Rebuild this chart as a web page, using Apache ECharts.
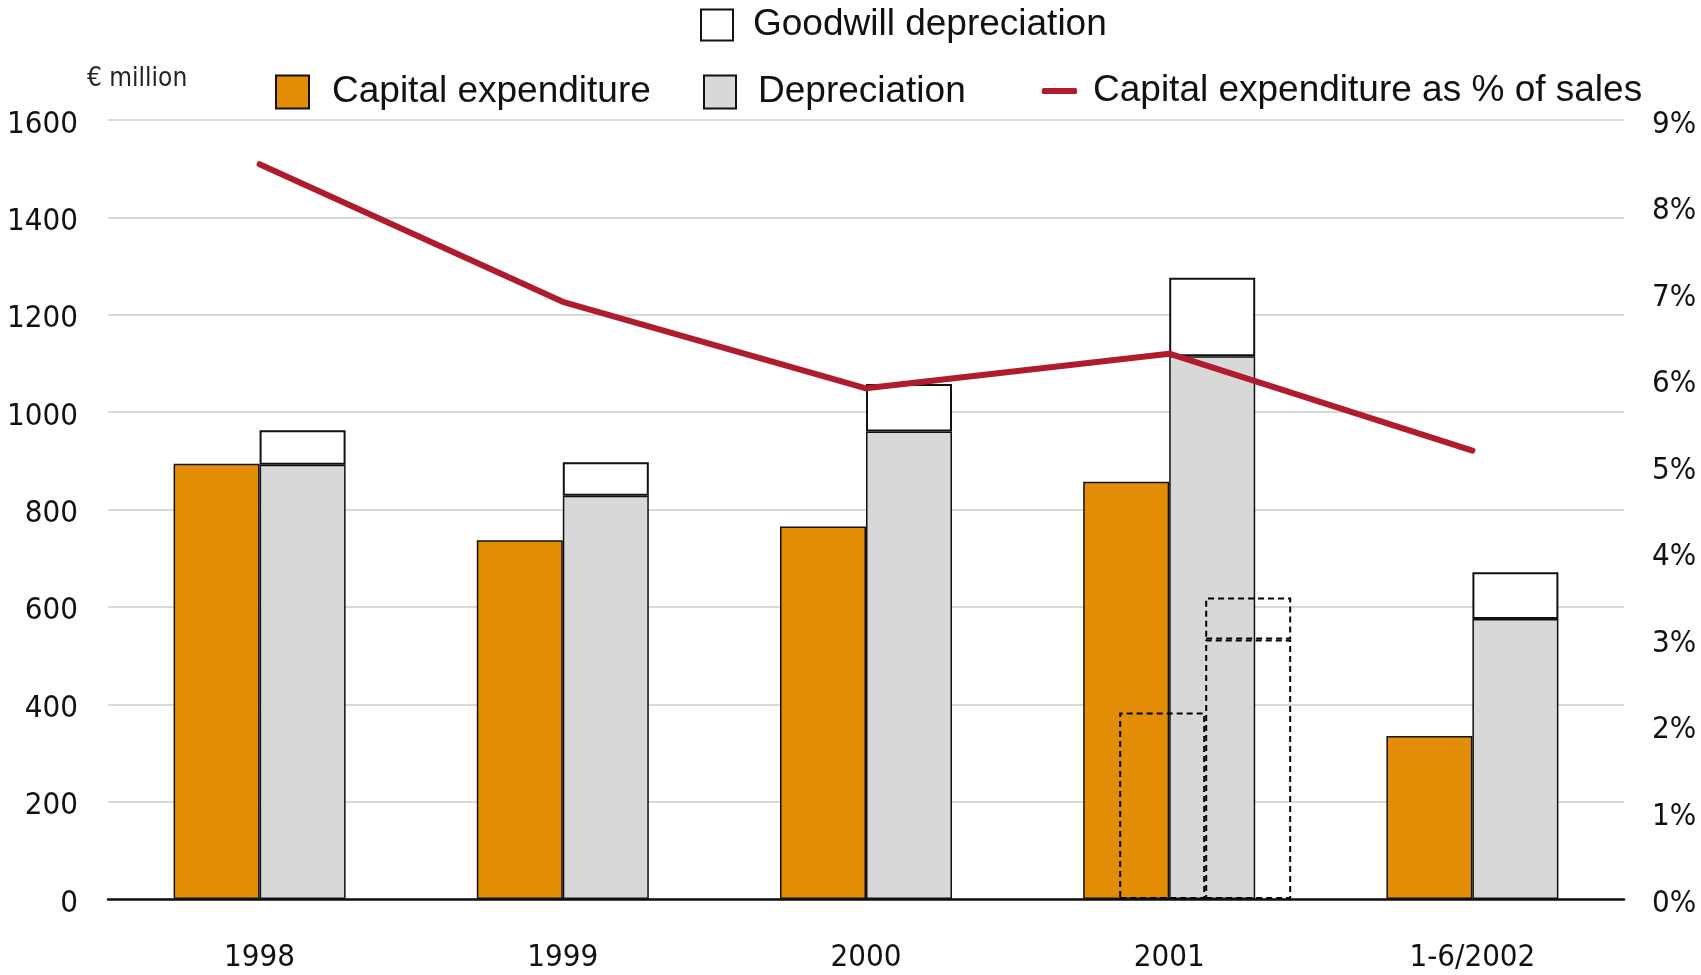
<!DOCTYPE html>
<html>
<head>
<meta charset="utf-8">
<title>Capital expenditure and depreciation</title>
<script src="https://cdn.jsdelivr.net/npm/echarts@6/dist/echarts.min.js"></script>
<style>
  html, body { margin: 0; padding: 0; background: #fff; }
  #chart { width: 1701px; height: 975px; }
</style>
</head>
<body>
<div id="chart"></div>
<script>
// Categories (years) and values in € million
const categories = ['1998', '1999', '2000', '2001', '1-6/2002'];
const capex = [894, 737, 765, 857, 335];
const depreciation = [892, 828, 960, 1115, 575];
const goodwill = [71, 69, 98, 161, 96];
// Capital expenditure as % of sales
const capexPct = [8.49, 6.90, 5.90, 6.30, 5.18];
// 2001 comparison values shown with dashed outlines
const capexAlt = ['-', '-', '-', 383, '-'];
const depreciationAlt = ['-', '-', '-', 533, '-'];
const goodwillAlt = ['-', '-', '-', 86, '-'];

const NARROW = '"Liberation Sans Narrow", "DejaVu Sans Condensed", "Arial Narrow", sans-serif';
const SANS = '"Liberation Sans", Arial, Helvetica, sans-serif';

const ORANGE = '#E38D06';
const GREY = '#D8D8D8';
const RED = '#B01C2E';

const chart = echarts.init(document.getElementById('chart'));

const legendText = { fontFamily: SANS, fontSize: 37, color: '#111', lineHeight: 34 };
const dashed = { color: 'rgba(0,0,0,0)', borderColor: '#000', borderWidth: 2, borderType: [6, 4] };
// value-axis tick text, nudged slightly below its gridline
const tickRich = { t: { fontFamily: NARROW, fontSize: 31, color: '#111', padding: [9, 0, 0, 0] } };

chart.setOption({
  animation: false,
  backgroundColor: '#fff',
  title: {
    text: '€ million',
    left: 87, top: 66,
    padding: 0,
    textStyle: { fontFamily: NARROW, fontSize: 26, fontWeight: 'normal', color: '#222' }
  },
  legend: [
    {
      data: ['Goodwill depreciation'], left: 700, top: 5, padding: 0,
      itemWidth: 32, itemHeight: 31, icon: 'rect',
      textStyle: Object.assign({ padding: [6, 0, 0, 15] }, legendText)
    },
    {
      data: ['Capital expenditure'], left: 275, top: 72, padding: 0,
      itemWidth: 33, itemHeight: 33, icon: 'rect',
      textStyle: Object.assign({ padding: [6, 0, 0, 18] }, legendText)
    },
    {
      data: ['Depreciation'], left: 703, top: 72, padding: 0,
      itemWidth: 32, itemHeight: 33, icon: 'rect',
      textStyle: Object.assign({ padding: [6, 0, 0, 17] }, legendText)
    },
    {
      data: ['Capital expenditure as % of sales'], left: 1042, top: 71, padding: 0,
      itemWidth: 35, itemHeight: 6, icon: 'roundRect',
      textStyle: Object.assign({ padding: [6, 0, 0, 11] }, legendText)
    }
  ],
  grid: [
    { left: 108, right: 77, top: 120, bottom: 76, containLabel: false, outerBoundsMode: 'none' },
    // companion grid, shifted right, for the dashed 2001 outlines
    { left: 144, right: 41, top: 120, bottom: 76, containLabel: false, outerBoundsMode: 'none' }
  ],
  xAxis: [
    {
      type: 'category', data: categories, gridIndex: 0,
      axisLine: { lineStyle: { color: '#111', width: 2.5 } },
      axisTick: { show: false },
      axisLabel: { fontFamily: NARROW, fontSize: 31, color: '#111', margin: 43 }
    },
    { type: 'category', data: categories, gridIndex: 1, show: false }
  ],
  yAxis: [
    {
      type: 'value', min: 0, max: 1600, interval: 200, gridIndex: 0,
      axisLine: { show: false }, axisTick: { show: false },
      axisLabel: {
        margin: 30, rich: tickRich,
        formatter: v => '{t|' + v + '}'
      },
      splitLine: { lineStyle: { color: '#D9D9D9', width: 2 } }
    },
    {
      type: 'value', min: 0, max: 9, interval: 1, gridIndex: 0, position: 'right',
      axisLine: { show: false }, axisTick: { show: false },
      axisLabel: {
        margin: 28, rich: tickRich,
        formatter: v => '{t|' + v + '%}'
      },
      splitLine: { show: false }
    },
    { type: 'value', min: 0, max: 1600, gridIndex: 1, show: false }
  ],
  series: [
    {
      name: 'Capital expenditure', type: 'bar', data: capex,
      barWidth: 86, barGap: '0%',
      itemStyle: { color: ORANGE, borderColor: '#111', borderWidth: 1.5 }
    },
    {
      name: 'Depreciation', type: 'bar', stack: 'dep', data: depreciation,
      barWidth: 86,
      itemStyle: { color: GREY, borderColor: '#111', borderWidth: 1.5 }
    },
    {
      name: 'Goodwill depreciation', type: 'bar', stack: 'dep', data: goodwill,
      barWidth: 86,
      itemStyle: { color: '#fff', borderColor: '#111', borderWidth: 2 }
    },
    {
      name: 'capexAlt', type: 'bar', xAxisIndex: 1, yAxisIndex: 2, data: capexAlt,
      barWidth: 86, barGap: '0%', z: 3, itemStyle: dashed
    },
    {
      name: 'depAlt', type: 'bar', xAxisIndex: 1, yAxisIndex: 2, stack: 'alt', data: depreciationAlt,
      barWidth: 86, z: 3, itemStyle: dashed
    },
    {
      name: 'goodwillAlt', type: 'bar', xAxisIndex: 1, yAxisIndex: 2, stack: 'alt', data: goodwillAlt,
      barWidth: 86, z: 3, itemStyle: dashed
    },
    {
      name: 'Capital expenditure as % of sales', type: 'line', yAxisIndex: 1, data: capexPct,
      symbol: 'none', z: 5,
      itemStyle: { color: RED },
      lineStyle: { color: RED, width: 6, cap: 'round', join: 'round' }
    }
  ]
});
</script>
</body>
</html>
